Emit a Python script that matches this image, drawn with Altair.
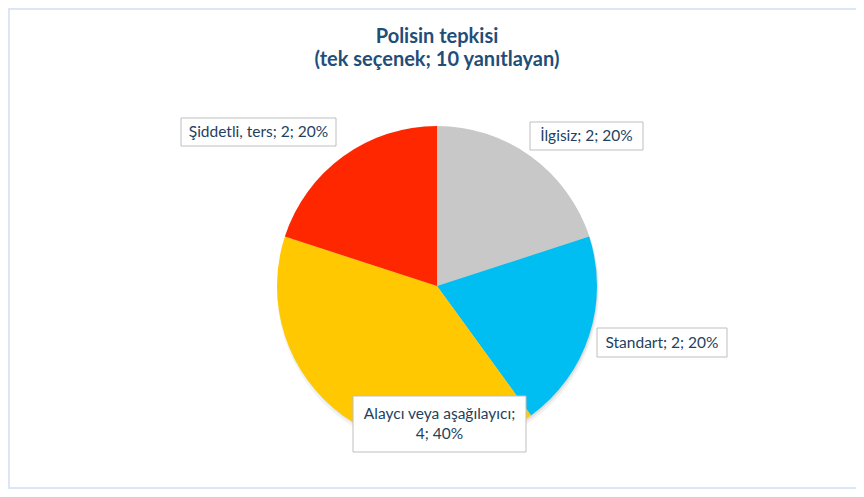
import altair as alt
import pandas as pd

# ---- data ----
categories = ["İlgisiz", "Standart", "Alaycı veya aşağılayıcı", "Şiddetli, ters"]
counts = [2, 2, 4, 2]
colors = ["#c8c8c8", "#00bdf2", "#ffc800", "#ff2700"]
title_lines = ["Polisin tepkisi", "(tek seçenek; 10 yanıtlayan)"]

# ---- layout (pixels, chart coordinates) ----
W, H = 848, 481
cx, cy, R = 429, 278, 160
label_boxes = [  # x1, y1, x2, y2 for each category label
    (522, 114, 635, 142),
    (589, 320, 719, 349),
    (345, 388, 518, 444),
    (173, 110, 328, 138),
]
line_break_after = {"Alaycı veya aşağılayıcı": True}

FONT = "Lato"
TXT = "#243f60"
TITLE_C = "#1f4e79"
BORDER = "#dce6f2"

total = sum(counts)
pie_df = pd.DataFrame({"cat": categories, "n": counts, "ord": list(range(len(categories)))})

texts = []
for c, n in zip(categories, counts):
    pct = round(100 * n / total)
    if line_break_after.get(c):
        texts.append(f"{c};\n{n}; {pct}%")
    else:
        texts.append(f"{c}; {n}; {pct}%")

lab_df = pd.DataFrame({
    "cat": categories,
    "txt": texts,
    "x1": [b[0] for b in label_boxes],
    "y1": [b[1] for b in label_boxes],
    "x2": [b[2] for b in label_boxes],
    "y2": [b[3] for b in label_boxes],
})
lab_df["tx"] = (lab_df.x1 + lab_df.x2) / 2
lab_df["ty"] = (lab_df.y1 + lab_df.y2) / 2
lab_df["ty"] = lab_df.apply(lambda r: r.ty - 10 if "\n" in r.txt else r.ty, axis=1)

base = alt.Chart(pie_df)
theta = alt.Theta("n:Q", stack=True)
order = alt.Order("ord:Q")

shadow1 = base.mark_arc(radius=R + 1, fill="#000000", opacity=0.05).encode(
    theta=theta, order=order, x=alt.value(cx + 1), y=alt.value(cy + 4))
shadow2 = base.mark_arc(radius=R, fill="#000000", opacity=0.08).encode(
    theta=theta, order=order, x=alt.value(cx + 1), y=alt.value(cy + 2))

pie = base.mark_arc(radius=R, strokeWidth=0).encode(
    theta=theta,
    order=order,
    color=alt.Color("cat:N", scale=alt.Scale(domain=categories, range=colors), legend=None),
    x=alt.value(cx),
    y=alt.value(cy),
)

lab = alt.Chart(lab_df)
boxes = lab.mark_rect(fill="white", stroke="#bfbfbf", strokeWidth=1).encode(
    x=alt.X("x1:Q", scale=None), x2="x2:Q",
    y=alt.Y("y1:Q", scale=None), y2="y2:Q",
)
labels = lab.mark_text(font=FONT, fontSize=15.5, color=TXT, align="center",
                       baseline="middle", lineBreak="\n", lineHeight=20).encode(
    x=alt.X("tx:Q", scale=None), y=alt.Y("ty:Q", scale=None), text="txt:N")

title_df = pd.DataFrame({"t": title_lines, "ty": [29, 52]})
title = alt.Chart(title_df).mark_text(font=FONT, fontSize=20, fontWeight="bold",
                                      color=TITLE_C, align="center", baseline="middle").encode(
    x=alt.value(429), y=alt.Y("ty:Q", scale=None), text="t:N")

# outer frame (left, top, bottom edges)
frame_left = base.mark_rule(color=BORDER, strokeWidth=1.5).encode(
    x=alt.value(0.75), y=alt.value(0), y2=alt.value(H))
frame_top = base.mark_rule(color=BORDER, strokeWidth=1.5).encode(
    x=alt.value(0), x2=alt.value(W), y=alt.value(0.75))
frame_bottom = base.mark_rule(color=BORDER, strokeWidth=1.5).encode(
    x=alt.value(0), x2=alt.value(W), y=alt.value(H - 0.75))

chart = alt.layer(frame_left, frame_top, frame_bottom, shadow1, shadow2, pie,
                  boxes, labels, title).properties(
    width=W, height=H, autosize="none", padding=0,
).configure_view(stroke=None)

chart.save("out.html", embed_options={"renderer": "svg", "actions": False})
